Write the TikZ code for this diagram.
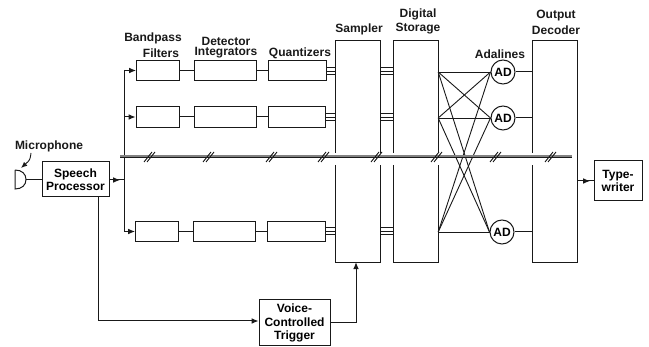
\documentclass[tikz,border=0pt]{standalone}
\usepackage{fontspec}
\setmainfont{Liberation Sans}
\usepackage{xcolor}
\usetikzlibrary{arrows.meta,positioning}
\definecolor{tinta}{RGB}{25,25,25}
\definecolor{faixa}{RGB}{130,130,130}
\tikzset{
  caixa/.style={rectangle,draw=tinta,line width=1pt,inner sep=0pt,align=center,
    font=\bfseries\fontsize{12}{13.5}\selectfont},
  coluna/.style={rectangle,minimum width=44pt,minimum height=221pt,inner sep=0pt},
  somador/.style={circle,draw=tinta,line width=1pt,minimum size=24pt,inner sep=0pt,
    font=\bfseries\fontsize{12}{13.5}\selectfont},
  rotulo/.style={inner sep=0pt,align=center,text=tinta,
    font=\bfseries\fontsize{12}{13.5}\selectfont},
  fio/.style={draw=tinta,line width=1pt},
  fino/.style={draw=tinta,line width=0.9pt},
  seta/.style={-{Latex[length=2.4mm,width=2mm]},draw=tinta,line width=1pt}
}
\begin{document}
\begin{tikzpicture}[x=1pt,y=1pt]
\useasboundingbox (0,0) rectangle (649,-347);
% linha de filtros
\foreach \r/\y/\d in {a/-70.5/1,b/-117/0.5,c/-231.5/0}{
  \node[caixa,minimum width=43pt,minimum height=20.5pt] (filtro\r) at (157+\d,\y) {};
  \node[caixa,minimum width=62pt,minimum height=20.5pt] (integ\r) at (224.5+\d,\y) {};
  \node[caixa,minimum width=57.5pt,minimum height=20.5pt] (quant\r) at (296.5+\d,\y) {};
}
% colunas
\node[coluna] (sampler) at (358,-151.5) {};
\node[coluna] (storage) at (416,-151.5) {};
\node[coluna] (decoder) at (555,-151.5) {};
\coordinate (cortea) at (0,-153);
\coordinate (corteb) at (0,-165);
\foreach \n in {sampler,storage}{
  \draw[fio] (\n.north west |- cortea) -- (\n.north west) -- (\n.north east) -- (\n.north east |- cortea);
  \draw[fio] (\n.south west |- corteb) -- (\n.south west) -- (\n.south east) -- (\n.south east |- corteb);
}
\draw[fio] (decoder.north west |- cortea) -- (decoder.north west) -- (decoder.north east)
  -- (decoder.south east) -- (decoder.south west) -- (decoder.south west |- corteb);
% somadores
\node[somador] (ada) at (503,-72) {AD};
\node[somador] (adb) at (503,-118) {AD};
\node[somador] (adc) at (502,-232) {AD};
% demais blocos
\node[caixa,minimum width=67pt,minimum height=35pt] (proc) at (75.5,-179.5) {Speech\\Processor};
\node[caixa,minimum width=48pt,minimum height=40pt] (tipo) at (618,-181) {Type-\\writer};
\node[caixa,minimum width=71pt,minimum height=46pt] (voz) at (294.5,-323) {Voice-\\Controlled\\Trigger};
% microfone
\coordinate (micb) at (15,-170);
\coordinate (micc) at (15,-189);
\coordinate (micd) at (26,-179.5);
\draw[fio] (micb) -- (micc) .. controls (22,-189) and (26,-185) .. (micd)
  .. controls (26,-174) and (22,-170) .. (micb);
\draw[fio] (micd) -- (proc.west |- micd);
% rotulos
\node[rotulo] (lmic) at (49,-146) {Microphone};
\node[rotulo] (lband) at (153,-38) {Bandpass};
\node[rotulo] (lfilt) at (161,-53) {Filters};
\node[rotulo] (ldet) at (226,-41) {Detector};
\node[rotulo] (lint) at (226,-53) {Integrators};
\node[rotulo] (lquant) at (300,-53) {Quantizers};
\node[rotulo] (lsamp) at (359,-29) {Sampler};
\node[rotulo] (ldig) at (418,-14) {Digital};
\node[rotulo] (lstor) at (418,-29) {Storage};
\node[rotulo] (lada) at (500,-54) {Adalines};
\node[rotulo] (lout) at (556,-16) {Output};
\node[rotulo] (ldec) at (556,-30) {Decoder};
\coordinate (micr) at (31,-153);
\draw[-{Latex[length=2.2mm,width=1.8mm]},fino] (micr) .. controls (30,-160) .. (21,-168);
% barramento
\coordinate (topo) at (124,-70);
\coordinate (fundo) at (124,-231);
\coordinate (juncao) at (124,-180);
\coordinate (setaproc) at (120,-180);
\coordinate (desce) at (98,-321);
\draw[fio] (topo) -- (fundo);
\draw[fio] (proc.east |- juncao) -- (juncao);
\draw[seta] (proc.east |- juncao) -- (setaproc);
\foreach \r in {a,b,c}{
  \draw[seta] (topo |- filtro\r.west) -- (filtro\r.west);
  \draw[fio] (filtro\r) -- (integ\r);
  \draw[fio] (integ\r) -- (quant\r);
}
\foreach \r/\q in {a/-71,b/-117,c/-231}{
  \foreach \s in {-3.5,0,3.5}{
    \draw[fino] (quant\r.east |- 0,\q+\s) -- (sampler.west |- 0,\q+\s);
    \draw[fino] (sampler.east |- 0,\q+\s) -- (storage.west |- 0,\q+\s);
  }
}
% gatilho
\draw[seta] (proc.south -| desce) -- (desce) -- (voz.west |- desce);
\coordinate (sobe) at (356,-323);
\draw[seta] (voz.east |- sobe) -- (sobe) -- (sobe |- sampler.south);
% ligacoes cruzadas
\coordinate (sa) at (storage.east |- ada);
\coordinate (sb) at (storage.east |- adb);
\coordinate (sc) at (storage.east |- adc);
\foreach \o in {sa,sb,sc}{
  \foreach \t in {ada,adb,adc}{
    \draw[fino] (\o) -- (\t.west);
  }
}
\foreach \t in {ada,adb,adc}{
  \draw[fio] (\t) -- (decoder.west |- \t);
}
% saida
\coordinate (setatipo) at (590,-181);
\draw[fio] (decoder.east |- tipo) -- (tipo);
\draw[seta] (decoder.east |- tipo) -- (setatipo);
% faixa dupla
\coordinate (faixaa) at (120,-157);
\coordinate (faixab) at (572,-157);
\draw[faixa,line width=2pt] ([yshift=1.1pt]faixaa) -- ([yshift=1.1pt]faixab);
\draw[fino] (faixaa) -- (faixab);
\foreach \x in {150,209,272,324,377,437,496,551}{
  \draw[fino] (\x-6,-162) -- (\x+2,-152);
  \draw[fino] (\x-3,-162) -- (\x+5,-152);
}
\end{tikzpicture}
\end{document}
